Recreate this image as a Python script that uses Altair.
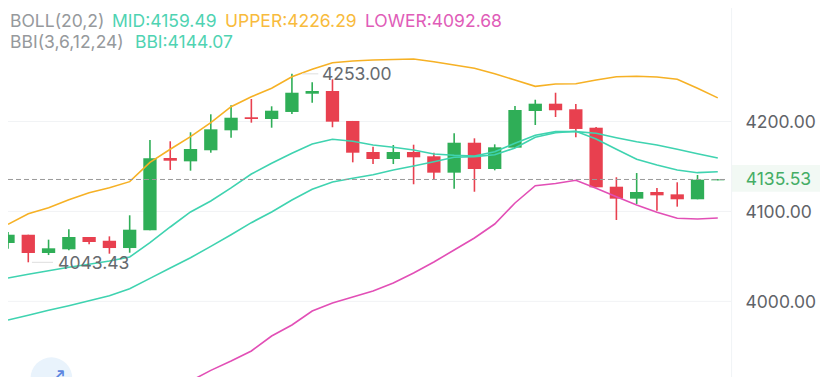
import altair as alt
import pandas as pd

opens = [4064.9,4074.1,4053.8,4057.9,4071.6,4067.4,4059.3,4079.0,4159.4,4155.7,4168.0,4190.2,4204.7,4202.8,4210.6,4230.9,4233.9,4200.6,4166.1,4158.3,4166.1,4161.3,4143.1,4176.4,4147.2,4170.9,4211.7,4219.8,4213.6,4193.1,4127.5,4114.2,4121.6,4119.0,4113.5,4134.6]
closes = [4074.1,4053.8,4059.0,4071.6,4066.0,4059.3,4079.7,4159.1,4156.4,4169.4,4191.3,4204.2,4202.8,4212.0,4232.0,4233.9,4199.8,4165.3,4158.3,4166.1,4160.2,4143.1,4176.4,4147.2,4171.3,4212.8,4219.8,4212.5,4191.7,4126.8,4114.2,4121.6,4117.9,4113.5,4135.3,4135.53]
highs = [4077.1,4074.1,4068.6,4080.1,4071.6,4072.3,4095.7,4179.4,4178.0,4188.0,4208.0,4218.0,4225.0,4216.9,4253.0,4243.6,4246.9,4200.6,4172.0,4173.9,4174.2,4165.3,4186.9,4181.3,4174.6,4217.2,4224.2,4232.0,4219.5,4193.9,4138.0,4142.7,4126.1,4132.4,4140.5,4136.0]
lows = [4058.6,4043.43,4051.5,4056.8,4063.4,4053.0,4054.1,4079.0,4146.1,4145.3,4165.3,4182.0,4198.7,4193.1,4208.3,4220.9,4193.6,4154.6,4152.7,4152.7,4130.2,4135.7,4125.3,4121.9,4145.7,4170.5,4196.1,4205.0,4182.4,4126.8,4090.5,4108.3,4100.8,4105.3,4113.5,4134.6]

upper = [4085.7,4097.5,4104.1,4113.0,4120.8,4126.4,4133.1,4154.6,4169.1,4183.1,4198.7,4216.5,4227.6,4236.9,4249.8,4258.0,4265.4,4267.3,4268.4,4268.9,4269.5,4266.5,4262.8,4259.2,4253.2,4246.1,4239.1,4241.7,4242.0,4246.1,4249.8,4250.3,4249.5,4246.9,4236.9,4226.29]
mid = [4026.0,4030.1,4034.1,4037.9,4041.2,4044.9,4049.3,4065.2,4082.7,4099.4,4111.6,4126.1,4141.6,4153.5,4164.6,4175.0,4180.2,4178.0,4173.9,4171.3,4168.3,4163.9,4162.4,4161.6,4166.4,4175.8,4184.7,4188.7,4188.7,4186.9,4182.0,4177.5,4173.9,4169.1,4164.2,4159.49]
bbi = [3979.3,3984.5,3990.1,3995.2,4000.7,4006.3,4014.1,4025.6,4037.1,4048.5,4061.2,4074.1,4087.5,4099.4,4112.7,4124.6,4132.7,4136.8,4140.8,4146.1,4150.5,4155.3,4160.2,4160.9,4163.1,4170.5,4182.4,4187.5,4189.1,4180.5,4169.1,4158.0,4151.6,4146.1,4143.1,4144.07]
lower_idx = list(range(9, 36))
lower = [3911.4,3923.3,3933.7,3944.8,3961.5,3973.7,3989.3,3998.2,4004.8,4011.5,4020.4,4031.5,4043.8,4057.1,4070.5,4086.0,4109.4,4128.6,4131.1,4134.6,4125.7,4116.4,4107.1,4099.0,4092.4,4091.6,4092.68]

y_ticks = [4000, 4100, 4200]
last_price = 4135.53
X_DOM = [0, 40.04]
Y_DOM = [3915.9, 4326.2]
X_DIV = 35.68

GREEN, RED = "#2fae57", "#e8404f"
ORANGE, TEAL, PINK = "#f6b125", "#3fd3b0", "#e24fb6"
FONT = "Inter"

x_s = alt.Scale(domain=X_DOM, nice=False, zero=False, padding=0)
y_s = alt.Scale(domain=Y_DOM, nice=False, zero=False)
X = alt.X("x:Q", scale=x_s, axis=None)
Y1 = alt.Y("y:Q", scale=y_s)

idx = list(range(len(opens)))
candles = pd.DataFrame({"x": idx, "o": opens, "c": closes, "h": highs, "l": lows})
candles["dir"] = ["up" if c >= o else "down" for o, c in zip(opens, closes)]
col = alt.Color("dir:N", scale=alt.Scale(domain=["up", "down"], range=[GREEN, RED]), legend=None)

grid = alt.Chart(pd.DataFrame({"y": y_ticks, "x": [0, 0, 0], "x2": [X_DIV] * 3})).mark_rule(
    color="#f1f3f5", strokeWidth=1
).encode(x=X, x2="x2:Q", y=alt.Y("y:Q", scale=y_s, axis=alt.Axis(
    orient="right", offset=-89, values=y_ticks, format=".2f", grid=False, domain=False, ticks=False,
    labelPadding=14, labelOffset=1, labelFont=FONT, labelFontSize=17.5, labelColor="#5f6368", title=None)))

divider = alt.Chart(pd.DataFrame({"x": [X_DIV]})).mark_rule(color="#f0f3f6", strokeWidth=1).encode(x=X)

band = alt.Chart(pd.DataFrame({"x": [X_DIV], "x2": [X_DOM[1]], "y": [4121.9], "y2": [4151.6]})).mark_rect(
    color="#f2f9f4"
).encode(x=X, x2="x2:Q", y=Y1, y2="y2:Q")

wicks = alt.Chart(candles).mark_rule(strokeWidth=1.6).encode(
    x=X, y=alt.Y("h:Q", scale=y_s), y2="l:Q", color=col)
bodies = alt.Chart(candles).mark_bar(size=13.3, clip=True).encode(
    x=X, y=alt.Y("o:Q", scale=y_s), y2="c:Q", color=col)


def curve(xs, ys, color):
    return alt.Chart(pd.DataFrame({"x": xs, "y": ys})).mark_line(
        color=color, strokeWidth=1.6, clip=True, interpolate="linear"
    ).encode(x=X, y=Y1)


lines = [curve(idx, upper, ORANGE), curve(idx, mid, TEAL), curve(idx, bbi, TEAL), curve(lower_idx, lower, PINK)]

price = alt.Chart(pd.DataFrame({"y": [last_price], "x": [0], "x2": [35.5]})).mark_rule(
    color="#9a9a9a", strokeDash=[5, 3], strokeWidth=1
).encode(x=X, x2="x2:Q", y=Y1)

price_label = alt.Chart(pd.DataFrame({"x": [36.38], "y": [last_price], "t": ["4135.53"]})).mark_text(
    align="left", baseline="middle", dy=1, font=FONT, fontSize=17.5, color="#45ad66"
).encode(x=X, y=Y1, text="t:N")

leads = alt.Chart(pd.DataFrame({"x": [1.18, 14.5], "x2": [2.22, 15.3], "y": [4043.43, 4253.0]})).mark_rule(
    color="#dedede", strokeWidth=1
).encode(x=X, x2="x2:Q", y=Y1)

extremes = alt.Chart(pd.DataFrame({"x": [2.47, 15.48], "y": [4043.43, 4253.0], "t": ["4043.43", "4253.00"]})).mark_text(
    align="left", baseline="middle", dy=1.5, font=FONT, fontSize=17.5, color="#666a6e"
).encode(x=X, y=Y1, text="t:N")

head_x = [0.1, 5.13, 10.7, 17.6, 0.1, 6.26]
head_y = [4305.1, 4305.1, 4305.1, 4305.1, 4281.7, 4281.7]
head_t = ["BOLL(20,2)", "MID:4159.49", "UPPER:4226.29", "LOWER:4092.68", "BBI(3,6,12,24)", "BBI:4144.07"]
head_c = ["#96999c", "#4fd3b2", "#f8bb3c", "#e05cb8", "#96999c", "#4fd3b2"]
header = alt.Chart(pd.DataFrame({"x": head_x, "y": head_y, "t": head_t, "c": head_c})).mark_text(
    align="left", baseline="alphabetic", font=FONT, fontSize=17.5
).encode(x=X, y=Y1, text="t:N", color=alt.Color("c:N", scale=None))

button = alt.Chart(pd.DataFrame({"x": [2.14], "y": [3914.6]})).mark_point(
    filled=True, size=1735, color="#e9f3fc", opacity=1, clip=True
).encode(x=X, y=Y1)
arrow = alt.Chart(pd.DataFrame({"x": [2.47], "y": [3917.0], "t": ["↗"]})).mark_text(
    font="DejaVu Sans", fontSize=20, color="#5d86e0", clip=True, baseline="middle"
).encode(x=X, y=Y1, text="t:N")

chart = alt.layer(
    grid, band, divider, wicks, bodies, *lines, price, price_label, leads, extremes, header, button, arrow
).properties(
    width=812, height=369, padding=0, autosize=alt.AutoSizeParams(type="none"), background="#ffffff"
).configure_view(stroke=None)

chart.save("out.html", embed_options={"renderer": "svg", "actions": False})
